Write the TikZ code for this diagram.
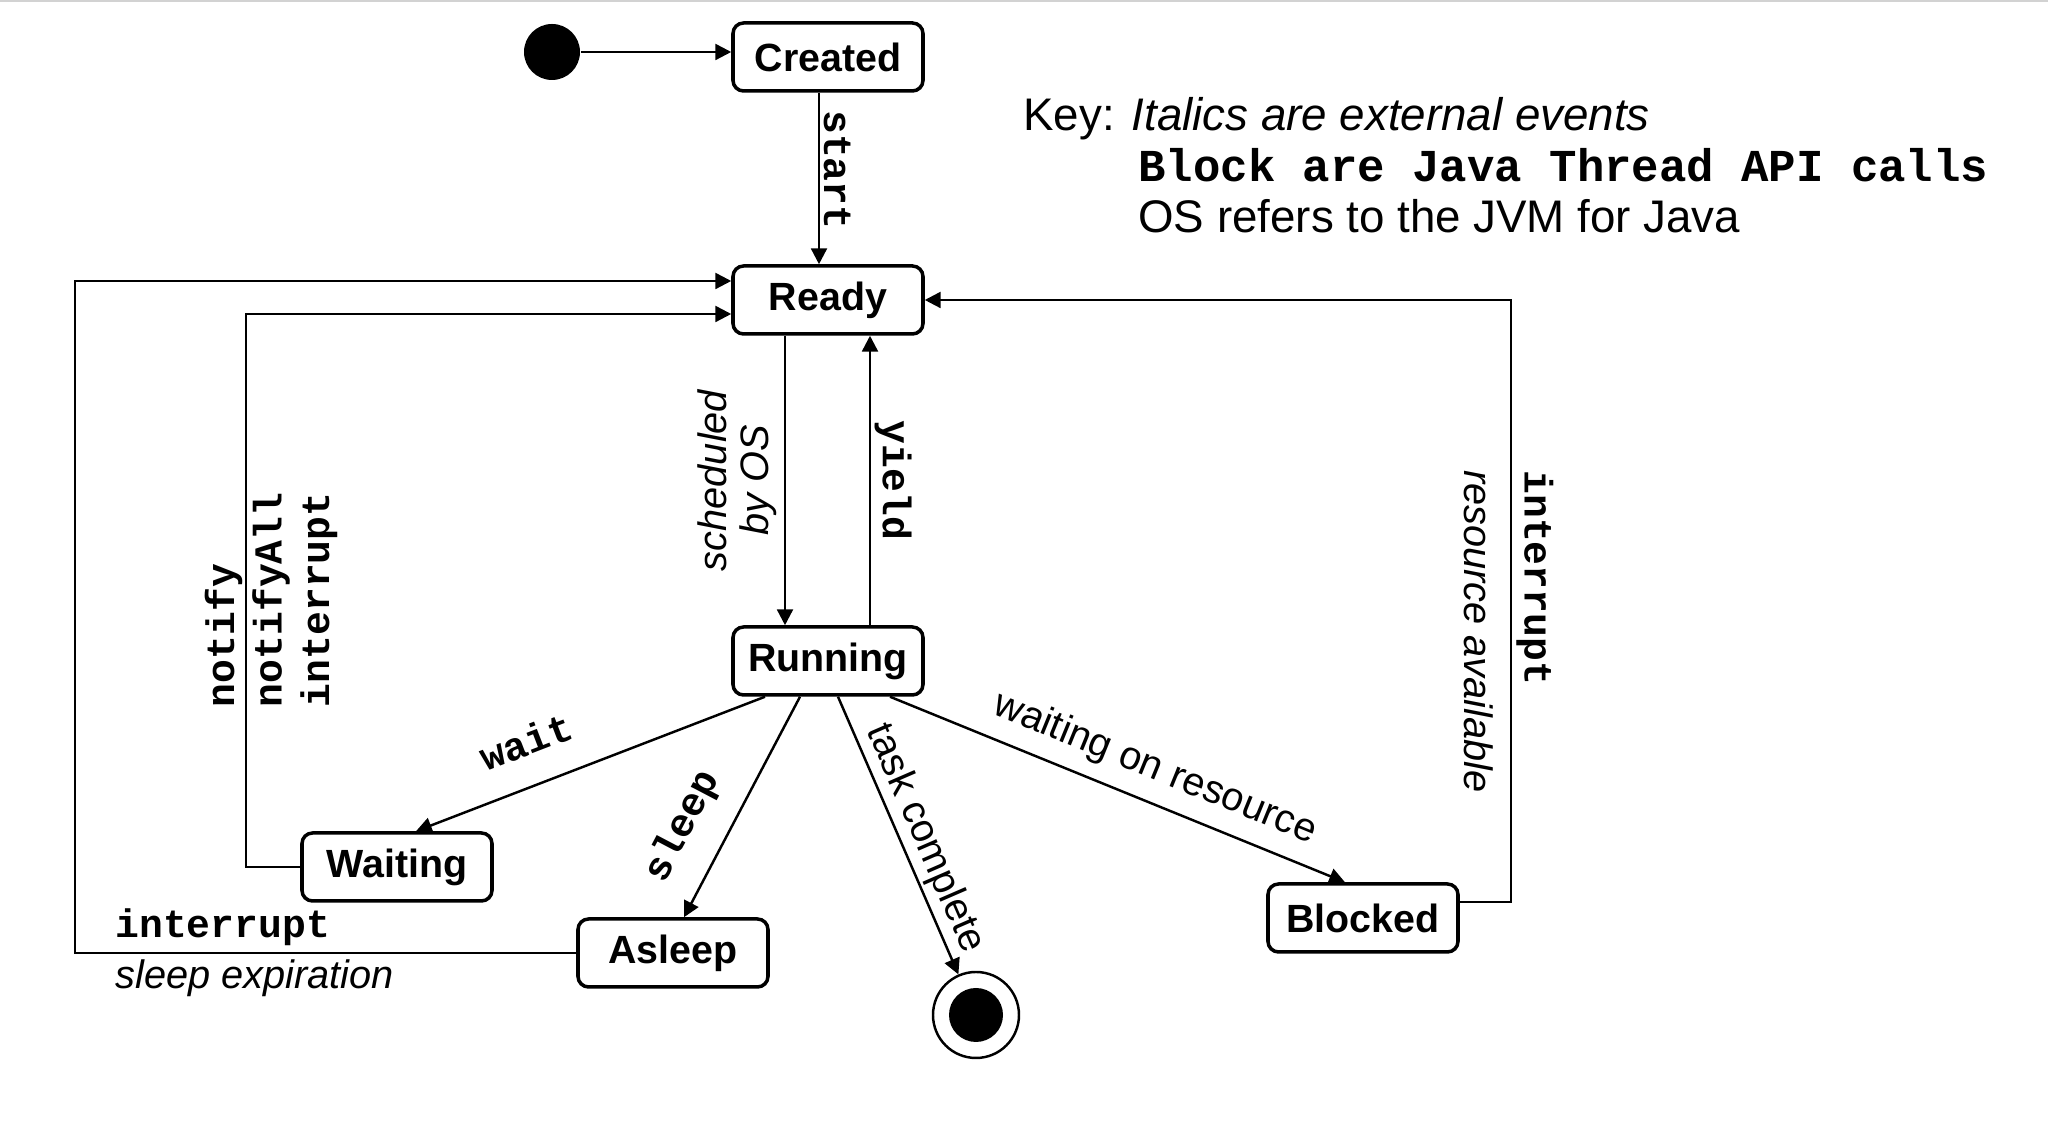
\documentclass[tikz,border=0pt]{standalone}
\usepackage{fontspec}
\setmainfont{Liberation Sans}
\setmonofont{Liberation Mono}
\usepackage{tikz}
\usetikzlibrary{arrows.meta}
\usetikzlibrary{positioning}

\tikzset{
  state/.style={draw, rounded corners=3pt, line width=1pt, minimum width=1.9cm, minimum height=0.68cm,
    inner sep=0pt, font=\fontsize{11.2}{13}\selectfont\bfseries},
  flow/.style={line width=0.7pt, -{Triangle[length=4.5pt, width=4.5pt]}},
  lbl/.style={inner sep=1pt, font=\fontsize{11.3}{13.1}\selectfont},
  call/.style={lbl, font=\fontsize{11.3}{13.1}\selectfont\ttfamily\bfseries},
  event/.style={lbl, font=\fontsize{11.3}{13.1}\selectfont\itshape}
}

\begin{document}
\begin{tikzpicture}[thick]
  \useasboundingbox (0,0) rectangle (20.48,11.23);
  \draw[gray!35, line width=0.4pt] (0,11.22) -- (20.48,11.22);

  \node[circle, fill, minimum size=0.56cm, inner sep=0pt] (init) at (5.52,10.71) {};
  \node[state] (Created) at (8.28,10.66) {Created};
  \node[state, below of=Created, node distance=2.43cm] (Ready) {Ready};
  \node[state, below of=Ready, node distance=3.61cm] (Running) {Running};
  \node[state] (Waiting) at (3.97,2.56) {Waiting};
  \node[state] (Asleep) at (6.73,1.70) {Asleep};
  \node[state] (Blocked) at (13.63,2.05) {Blocked};
  \node[circle, draw, line width=0.7pt, minimum size=0.86cm, inner sep=0pt] (final) at (9.76,1.08) {};
  \fill (final) circle (0.27);

  % key
  \node[anchor=north west, align=left, inner sep=0pt, font=\fontsize{13}{14.5}\selectfont] (key) at (10.22,10.265)
    {Key: \textit{Italics are external events}\\
     \hspace*{1.15cm}\texttt{\bfseries Block are Java Thread API calls}\\
     \hspace*{1.15cm}OS refers to the JVM for Java};

  \draw[flow] (init) -- (init -| Created.west);
  \draw[flow] ([xshift=-0.09cm]Created.south) -- ([xshift=-0.09cm]Ready.north)
    node[call, pos=0.45, rotate=-90, anchor=south] {start};
  \draw[flow] ([xshift=-0.43cm]Ready.south) -- ([xshift=-0.43cm]Running.north)
    node[event, midway, rotate=90, anchor=south, align=center, inner sep=2pt, font=\fontsize{11.3}{12}\selectfont\itshape] {scheduled\\by OS};
  \draw[flow] ([xshift=0.42cm]Running.north) -- ([xshift=0.42cm]Ready.south)
    node[call, midway, rotate=-90, anchor=south] {yield};

  \draw[flow] ([xshift=-0.63cm]Running.south) -- ([xshift=0.19cm]Waiting.north)
    node[call, pos=0.64, sloped, above=0.25cm] {wait};
  \draw[flow] ([xshift=-0.28cm]Running.south) -- ([xshift=0.11cm]Asleep.north)
    node[call, pos=0.68, sloped, above=0.2cm] {sleep};
  \draw[flow] ([xshift=0.1cm]Running.south) -- (final)
    node[lbl, pos=0.545, sloped, above=0cm] {task complete};
  \draw[flow] ([xshift=0.62cm]Running.south) -- ([xshift=-0.18cm]Blocked.north)
    node[lbl, pos=0.555, sloped, above=0.1cm] {waiting on resource};

  % back to Ready
  \draw[flow] (Waiting.west) -- ++(-0.54,0) |- ([yshift=-0.14cm]Ready.west);
  \draw[flow] (Asleep.west) -- ++(-5.01,0) |- ([yshift=0.19cm]Ready.west);
  \draw[flow] ([yshift=0.16cm]Blocked.east) -- ++(0.51,0) |- (Ready.east);

  \node[call, rotate=90, anchor=west, align=left, font=\fontsize{11.3}{13.5}\selectfont\ttfamily\bfseries] (wakeup) at (2.71,4.11)
    {notify\\notifyAll\\interrupt};
  \node[lbl, anchor=west, align=left, inner sep=0pt] (sleepend) at (1.14,1.70)
    {\texttt{\bfseries interrupt}\\[1.4pt]\textit{sleep expiration}};
  \node[lbl, rotate=-90, anchor=west, align=left, inner sep=0pt] (unblock) at (15.09,6.54)
    {\texttt{\bfseries interrupt}\\[3.9pt]\textit{resource available}};
\end{tikzpicture}
\end{document}
